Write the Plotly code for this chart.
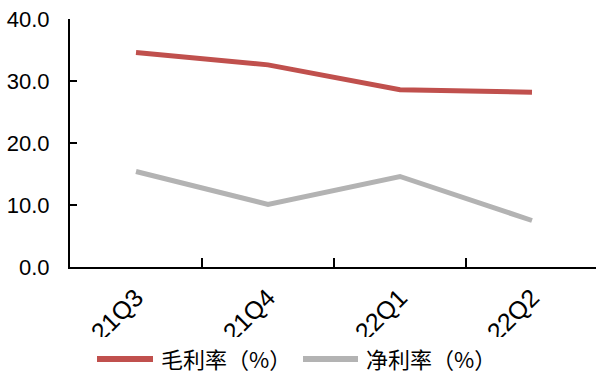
import plotly.graph_objects as go

quarters = ["21Q3", "21Q4", "22Q1", "22Q2"]
gross_margin = [34.6, 32.6, 28.6, 28.2]
net_margin = [15.4, 10.1, 14.6, 7.5]
y_ticks = [0, 10, 20, 30, 40]
series_names = ["毛利率（%）", "净利率（%）"]

RED = "#C0504D"
GRAY = "#B3B3B3"
FONT = "Liberation Sans, Arial, Noto Sans CJK SC, sans-serif"
CJK = "Noto Sans CJK SC, sans-serif"

xpos = list(range(len(quarters)))

fig = go.Figure()
fig.add_trace(go.Scatter(x=xpos, y=gross_margin, mode="lines", name=series_names[0],
                         line=dict(color=RED, width=5), showlegend=False))
fig.add_trace(go.Scatter(x=xpos, y=net_margin, mode="lines", name=series_names[1],
                         line=dict(color=GRAY, width=5), showlegend=False))

W, H = 596, 374
L, T, B = 70, 19, 107
plot_w = W - L
plot_h = H - T - B
unit = 132.0


def px_x(px):
    return (px - L) / plot_w


def px_y(py):
    return (H - B - py) / plot_h


fig.update_layout(
    width=W, height=H,
    margin=dict(l=L, r=0, t=T, b=B, pad=0, autoexpand=False),
    paper_bgcolor="white", plot_bgcolor="white",
    font=dict(family=FONT, size=20, color="black"),
    showlegend=False,
    xaxis=dict(
        range=[-0.5, -0.5 + plot_w / unit],
        tickvals=xpos, ticktext=quarters, tickangle=-45,
        ticks="", showline=True, linecolor="black", linewidth=2,
        showgrid=False, zeroline=False, automargin=False,
        tickfont=dict(size=25), ticklabelstandoff=4,
        minor=dict(tickvals=[0.5, 1.5, 2.5, 3.5], ticks="inside", ticklen=9,
                   tickwidth=2, tickcolor="black", showgrid=False),
    ),
    yaxis=dict(
        range=[0, 40], tickvals=y_ticks, tickformat=".1f",
        ticks="inside", ticklen=7, tickwidth=2, tickcolor="black",
        showline=True, linecolor="black", linewidth=2,
        showgrid=False, zeroline=False, automargin=False,
        tickfont=dict(size=22), ticklabelstandoff=14,
    ),
)

# white band hiding the lower part of the slanted labels, as in the source
fig.add_shape(type="rect", xref="paper", yref="paper",
              x0=-0.2, x1=1.05, y0=px_y(348), y1=px_y(337),
              fillcolor="white", line=dict(width=0), layer="above")

# legend drawn by hand: line samples + text
LEG_Y = 358
legend_items = [(97, 153, 160, RED), (303, 358, 365, GRAY)]
for (lx0, lx1, tx, col), name in zip(legend_items, series_names):
    fig.add_shape(type="line", xref="paper", yref="paper",
                  x0=px_x(lx0), x1=px_x(lx1), y0=px_y(LEG_Y + 1), y1=px_y(LEG_Y + 1),
                  line=dict(color=col, width=6), layer="above")
    fig.add_annotation(xref="paper", yref="paper", x=px_x(tx), y=px_y(LEG_Y),
                       text=name, showarrow=False, xanchor="left", yanchor="middle",
                       borderpad=0,
                       font=dict(family=CJK, size=22, color="black"))

fig.write_html("out.html")
